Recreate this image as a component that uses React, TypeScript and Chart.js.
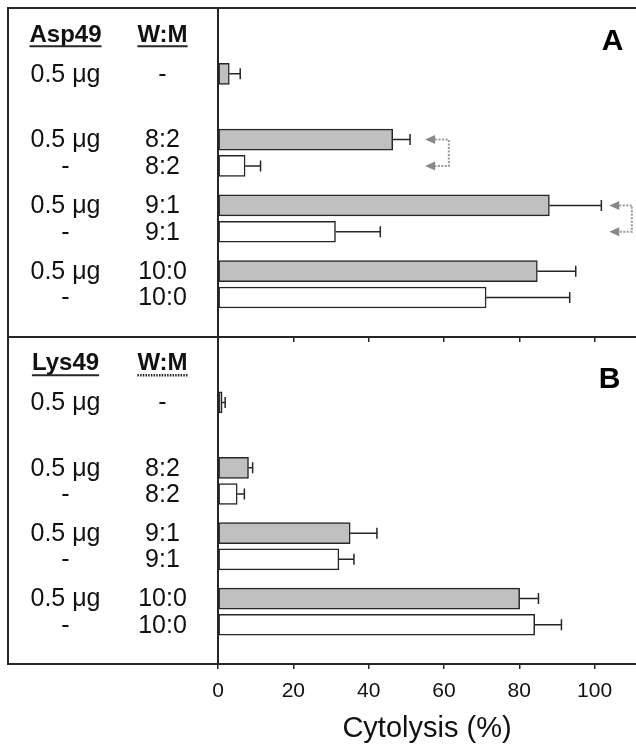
import React, { useEffect, useRef } from 'react';
import { Chart, registerables } from 'chart.js';

Chart.register(...registerables);

const FONT = "'Liberation Sans', Arial, Helvetica, sans-serif";
const INK = '#262626';

// Table rows (same for both panels)
const toxinLabels = ['0.5 μg', '0.5 μg', '-', '0.5 μg', '-', '0.5 μg', '-'];
const ratioLabels = ['-', '8:2', '8:2', '9:1', '9:1', '10:0', '10:0'];
const withToxin = [true, true, false, true, false, true, false];
// row slots on a 25-slot vertical axis (blank slots separate groups)
const rowSlots = [5, 10, 12, 15, 17, 20, 22];
const SLOT_COUNT = 25;

// Panel A: Asp49
const asp49Cytolysis = [3.0, 46.4, 7.2, 88.0, 31.2, 84.8, 71.2];
const asp49Error = [2.9, 4.6, 4.1, 13.8, 11.9, 10.2, 22.2];

// Panel B: Lys49
const lys49Cytolysis = [1.1, 8.1, 5.1, 35.1, 32.1, 80.1, 84.1];
const lys49Error = [0.8, 1.1, 1.9, 7.1, 4.0, 5.0, 7.1];

const xTickValues = [0, 20, 40, 60, 80, 100];
const X_MAX = 111;
const X_TITLE = 'Cytolysis (%)';

type Bracket = { from: number; to: number; tip: number; right: number };

type Panel = {
  name: string;
  letter: string;
  letterSlot: number;
  letterX: number;
  values: number[];
  errors: number[];
  dottedRatioUnderline: boolean;
  brackets: Bracket[];
  showAxisLabels: boolean;
};

const panelA: Panel = {
  name: 'Asp49',
  letter: 'A',
  letterSlot: 2.55,
  letterX: 104.8,
  values: asp49Cytolysis,
  errors: asp49Error,
  dottedRatioUnderline: false,
  brackets: [
    { from: 1, to: 2, tip: 55.0, right: 61.3 },
    { from: 3, to: 4, tip: 103.9, right: 109.9 },
  ],
  showAxisLabels: false,
};

const panelB: Panel = {
  name: 'Lys49',
  letter: 'B',
  letterSlot: 3.3,
  letterX: 104.0,
  values: lys49Cytolysis,
  errors: lys49Error,
  dottedRatioUnderline: true,
  brackets: [],
  showAxisLabels: true,
};

const COL1_X = 65.5;
const COL2_X = 162.5;
const BOX_LEFT = 8;

function makePanelPlugin(panel: Panel) {
  return {
    id: 'panelDecor' + panel.letter,
    afterDraw(chart: any) {
      const { ctx, chartArea } = chart;
      const xs = chart.scales.x;
      const ys = chart.scales.y;
      ctx.save();

      // table box
      ctx.strokeStyle = INK;
      ctx.lineWidth = 2;
      ctx.strokeRect(BOX_LEFT, chartArea.top, chartArea.left - BOX_LEFT, chartArea.bottom - chartArea.top);
      ctx.beginPath();
      ctx.moveTo(BOX_LEFT, chartArea.top);
      ctx.lineTo(chartArea.right, chartArea.top);
      ctx.stroke();

      // error bars
      ctx.lineWidth = 1.5;
      ctx.strokeStyle = INK;
      panel.values.forEach((v, i) => {
        const y = ys.getPixelForValue(rowSlots[i]);
        const x0 = xs.getPixelForValue(v);
        const x1 = xs.getPixelForValue(v + panel.errors[i]);
        ctx.beginPath();
        ctx.moveTo(x0, y);
        ctx.lineTo(x1, y);
        ctx.moveTo(x1, y - 5.5);
        ctx.lineTo(x1, y + 5.5);
        ctx.stroke();
      });

      // header
      ctx.fillStyle = '#111';
      ctx.textAlign = 'center';
      ctx.textBaseline = 'alphabetic';
      ctx.font = `bold 24px ${FONT}`;
      const hb = ys.getPixelForValue(1.9) + 8.6;
      const headers: [string, number, boolean][] = [
        [panel.name, COL1_X, false],
        ['W:M', COL2_X, panel.dottedRatioUnderline],
      ];
      headers.forEach(([t, x, dotted]) => {
        ctx.fillText(t, x, hb);
        const w = ctx.measureText(t).width;
        ctx.beginPath();
        ctx.lineWidth = dotted ? 2.5 : 2;
        ctx.setLineDash(dotted ? [1.5, 1.2] : []);
        ctx.moveTo(x - w / 2, hb + 4.7);
        ctx.lineTo(x + w / 2, hb + 4.7);
        ctx.stroke();
        ctx.setLineDash([]);
      });

      // rows
      ctx.font = `25px ${FONT}`;
      ctx.textBaseline = 'middle';
      rowSlots.forEach((s, i) => {
        const y = ys.getPixelForValue(s) + 1;
        ctx.fillText(toxinLabels[i], COL1_X, y);
        ctx.fillText(ratioLabels[i], COL2_X, y);
      });

      // panel letter
      ctx.font = `bold 30px ${FONT}`;
      ctx.fillStyle = '#000';
      ctx.fillText(panel.letter, xs.getPixelForValue(panel.letterX), ys.getPixelForValue(panel.letterSlot));

      // dotted comparison brackets
      panel.brackets.forEach((b) => {
        const yA = ys.getPixelForValue(rowSlots[b.from]);
        const yB = ys.getPixelForValue(rowSlots[b.to]);
        const xt = xs.getPixelForValue(b.tip);
        const xr = xs.getPixelForValue(b.right);
        const head = 10;
        ctx.strokeStyle = '#999';
        ctx.lineWidth = 2;
        ctx.setLineDash([2, 1.5]);
        ctx.beginPath();
        ctx.moveTo(xt + head, yA);
        ctx.lineTo(xr, yA);
        ctx.lineTo(xr, yB);
        ctx.lineTo(xt + head, yB);
        ctx.stroke();
        ctx.setLineDash([]);
        ctx.fillStyle = '#888';
        [yA, yB].forEach((yy) => {
          ctx.beginPath();
          ctx.moveTo(xt, yy);
          ctx.lineTo(xt + head, yy - 4.5);
          ctx.lineTo(xt + head, yy + 4.5);
          ctx.closePath();
          ctx.fill();
        });
      });

      ctx.restore();
    },
  };
}

function makeChart(canvas: HTMLCanvasElement, panel: Panel, padTop: number, xAxisHeight: number) {
  return new Chart(canvas, {
    type: 'bar',
    data: {
      datasets: [
        {
          data: panel.values.map((v, i) => ({ x: v, y: rowSlots[i] })) as any,
          backgroundColor: withToxin.map((t) => (t ? '#c0c0c0' : '#ffffff')),
          borderColor: INK,
          borderWidth: 1.5,
          borderSkipped: false,
          barThickness: 21,
        } as any,
      ],
    },
    options: {
      indexAxis: 'y',
      responsive: false,
      animation: false,
      devicePixelRatio: 1,
      layout: { padding: { left: 218, right: 0, top: padTop, bottom: 0 } },
      plugins: { legend: { display: false }, tooltip: { enabled: false } },
      scales: {
        x: {
          type: 'linear',
          min: 0,
          max: X_MAX,
          afterBuildTicks: (s: any) => {
            s.ticks = xTickValues.map((v) => ({ value: v }));
          },
          afterFit: (s: any) => {
            s.height = xAxisHeight;
          },
          grid: { drawOnChartArea: false, drawTicks: true, tickLength: 5, color: INK, lineWidth: 1.5 },
          border: { color: INK, width: 2 },
          ticks: {
            display: panel.showAxisLabels,
            padding: 10,
            color: '#111',
            font: { family: FONT, size: 21 },
          },
          title: {
            display: panel.showAxisLabels,
            text: X_TITLE,
            color: '#111',
            font: { family: FONT, size: 29 },
            padding: { top: 0, bottom: 2 },
          },
        },
        y: {
          type: 'linear',
          min: 0,
          max: SLOT_COUNT,
          reverse: true,
          afterBuildTicks: (s: any) => {
            s.ticks = [];
          },
          afterFit: (s: any) => {
            s.width = 0;
          },
          grid: { display: false },
          ticks: { display: false },
          border: { color: INK, width: 2 },
        },
      },
    } as any,
    plugins: [makePanelPlugin(panel)],
  });
}

export default function App() {
  const refA = useRef<HTMLCanvasElement>(null);
  const refB = useRef<HTMLCanvasElement>(null);

  useEffect(() => {
    const a = makeChart(refA.current!, panelA, 8, 8);
    const b = makeChart(refB.current!, panelB, 7, 84);
    return () => {
      a.destroy();
      b.destroy();
    };
  }, []);

  return (
    <div style={{ position: 'absolute', left: 0, top: 0, width: 636, height: 748, background: '#fff' }}>
      <canvas ref={refA} width={636} height={345} style={{ position: 'absolute', left: 0, top: 0 }} />
      <canvas ref={refB} width={636} height={418} style={{ position: 'absolute', left: 0, top: 330 }} />
    </div>
  );
}
